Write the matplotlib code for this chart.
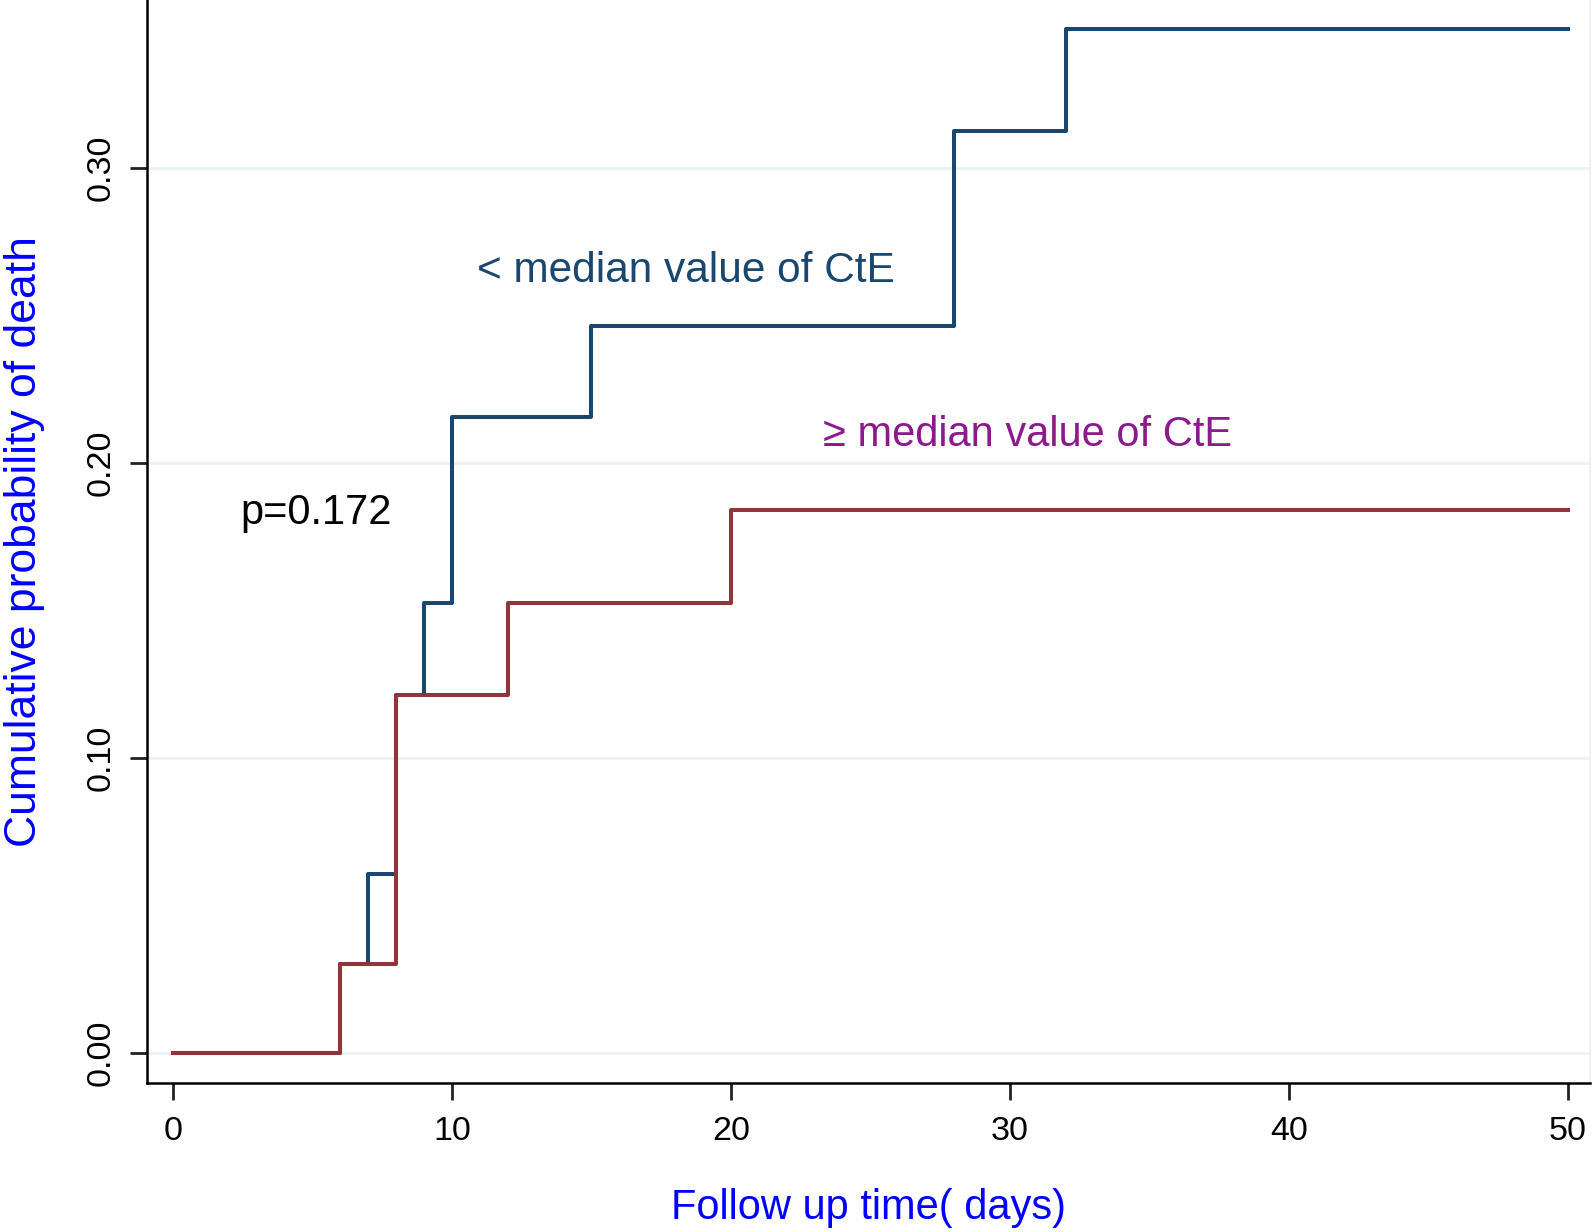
import matplotlib as mpl
mpl.use('agg')
import matplotlib.pyplot as plt

# Kaplan-Meier failure curves
low_t = [0, 6, 7, 8, 9, 10, 15, 28, 32, 50]
low_p = [0.0, 0.0303, 0.0605, 0.1215, 0.1525, 0.2156, 0.2466, 0.3125, 0.347, 0.347]
high_t = [0, 6, 8, 12, 20, 50]
high_p = [0.0, 0.0303, 0.1215, 0.1525, 0.184, 0.184]

xticks = [0, 10, 20, 30, 40, 50]
yticks = [0.0, 0.1, 0.2, 0.3]
ytick_labels = ['0.00', '0.10', '0.20', '0.30']

navy = '#1a476f'
maroon = '#90353b'
purple = '#8b1a8b'
grid_col = '#eaf2f3'

plt.rcParams['font.family'] = ['Liberation Sans', 'DejaVu Sans']

fig = plt.figure(figsize=(15.94, 12.32), dpi=100)
ax = fig.add_axes([147 / 1594, 1 - 1083 / 1232, (1590 - 147) / 1594, 1083 / 1232])

for y in yticks:
    ax.axhline(y, color=grid_col, lw=2, zorder=0)

ax.step(low_t, low_p, where='post', color=navy, lw=2.9, zorder=2)
ax.step(high_t, high_p, where='post', color=maroon, lw=2.9, zorder=3)

ax.set_xlim(-0.93, 50.8)
ax.set_ylim(-0.0102, 0.357)

ax.set_xticks(xticks)
ax.set_yticks(yticks)
ax.set_yticklabels(ytick_labels, rotation=90, va='center')
ax.tick_params(axis='both', direction='out', length=12, width=2, labelsize=24.5,
               color='#222222')
ax.tick_params(axis='x', pad=12)
ax.tick_params(axis='y', pad=10)

ax.spines['top'].set_visible(False)
ax.spines['right'].set_color(grid_col)
ax.spines['right'].set_linewidth(1.5)
ax.spines['left'].set_linewidth(1.8)
ax.spines['bottom'].set_linewidth(1.8)

ax.text(10.9, 0.265, '< median value of CtE', color=navy, fontsize=30.5, va='center')
ax.text(23.3, 0.2095, '≥ median value of CtE', color=purple, fontsize=30, va='center')
ax.text(2.4, 0.183, 'p=0.172', color='black', fontsize=30, va='center')

ax.set_ylabel('Cumulative probability of death', color='#0000ff', fontsize=32)
ax.yaxis.set_label_coords(-0.0707, 0.5)
ax.set_xlabel('Follow up time( days)', color='#0000ff', fontsize=30, labelpad=29)

fig.savefig('out.png', dpi=100)
